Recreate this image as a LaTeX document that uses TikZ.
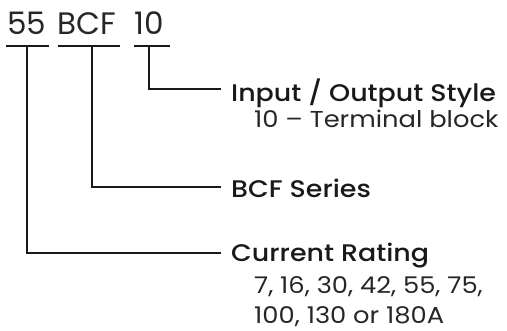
\documentclass[tikz,border=0pt]{standalone}
\usepackage{fontspec}
\setmainfont{Poppins}[BoldFont={Poppins Medium}]
\newfontfamily\widefont{Poppins}[BoldFont={Poppins Medium},FakeStretch=1.12]
\begin{document}
\begin{tikzpicture}[x=1pt,y=1pt,
  code/.style={anchor=base west,inner sep=0pt,font=\fontsize{31}{36}\selectfont,text=black!85},
  head/.style={anchor=base west,inner sep=0pt,font=\widefont\fontsize{24}{28}\selectfont\bfseries,text=black!90},
  sub/.style={anchor=base west,inner sep=0pt,font=\widefont\fontsize{23}{27}\selectfont,text=black!85},
  rule/.style={line width=2.7pt,black!90},
  conn/.style={line width=2.2pt,black!90}]
\useasboundingbox (0,0) rectangle (507,-331);
\node[code] (c55) at (7,-35) {55};
\node[code] (cbcf) at (57,-35) {BCF};
\node[code] (c10) at (134,-35) {10};
\coordinate (u1a) at (6,-46); \coordinate (u1b) at (49,-46);
\coordinate (u2a) at (58,-46); \coordinate (u2b) at (120,-46);
\coordinate (u3a) at (134,-46); \coordinate (u3b) at (170,-46);
\draw[rule] (u1a) -- (u1b);
\draw[rule] (u2a) -- (u2b);
\draw[rule] (u3a) -- (u3b);
\coordinate (d1) at (27,-46);
\coordinate (d2) at (92,-46);
\coordinate (d3) at (149,-46);
\node[head] (h1) at (231,-102) {Input / Output Style};
\node[sub] (s1) at (254,-128) {10 – Terminal block};
\node[head] (h2) at (231,-198) {BCF Series};
\node[head] (h3) at (231,-262) {Current Rating};
\node[sub] (s3a) at (254,-294) {7, 16, 30, 42, 55, 75,};
\node[sub] (s3b) at (254,-324) {100, 130 or 180A};
\coordinate (e1) at (221,-89);
\coordinate (e2) at (221,-187);
\coordinate (e3) at (221,-253);
\draw[conn] (d3) |- (e1);
\draw[conn] (d2) |- (e2);
\draw[conn] (d1) |- (e3);
\end{tikzpicture}
\end{document}
